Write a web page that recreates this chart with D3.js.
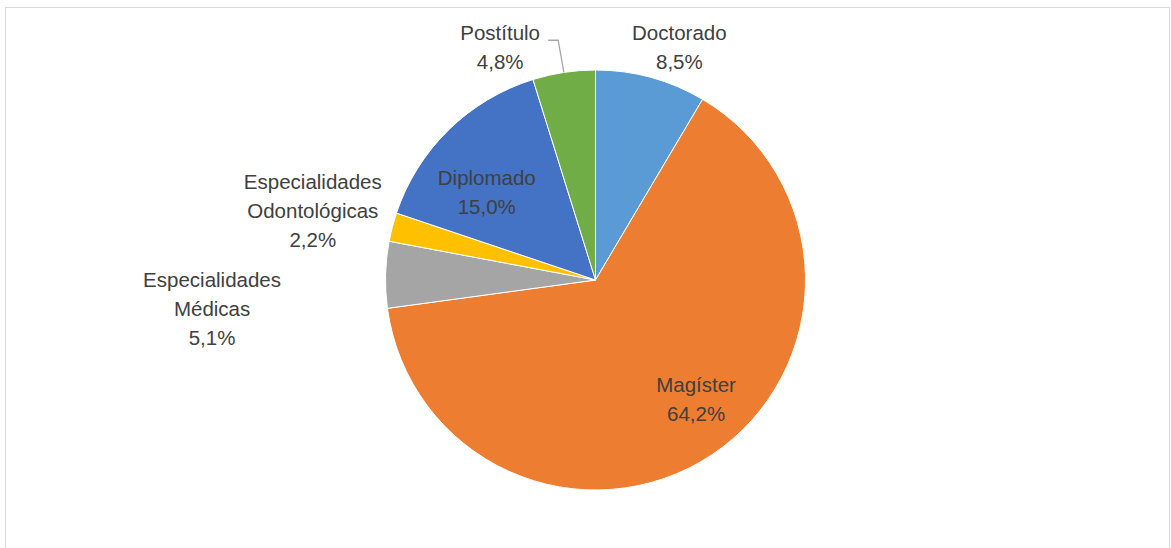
<!DOCTYPE html>
<html><head><meta charset="utf-8">
<script src="https://cdn.jsdelivr.net/npm/d3@7"></script>
<style>html,body{margin:0;padding:0;background:#fff;overflow:hidden}</style>
</head><body>
<svg id="chart" width="1171" height="548"></svg>
<script>
// ---- data ----
const categories = ["Doctorado", "Magíster", "Especialidades Médicas", "Especialidades Odontológicas", "Diplomado", "Postítulo"];
const values = [8.5, 64.2, 5.1, 2.2, 15.0, 4.8];
const valueLabels = ["8,5%", "64,2%", "5,1%", "2,2%", "15,0%", "4,8%"];
const labelLines = [["Doctorado"], ["Magíster"], ["Especialidades", "Médicas"], ["Especialidades", "Odontológicas"], ["Diplomado"], ["Postítulo"]];

// ---- layout / style ----
const colors = ["#5B9BD5", "#ED7D31", "#A5A5A5", "#FFC000", "#4472C4", "#70AD47"];
const inside = [false, true, false, false, true, false];
const nudges = [[20, 0], [17, -7], [-142, 35], [-49, -8], [-3, 20], [-59, 6]];
const W = 1171, H = 548, cx = 595.5, cy = 280, R = 210, lineH = 29;

const svg = d3.select("#chart");
svg.append("rect").attr("x", 5.5).attr("y", 7.5).attr("width", 1164).attr("height", 700)
  .attr("fill", "#fff").attr("stroke", "#d9d9d9").attr("stroke-width", 1);

const g = svg.append("g").attr("transform", `translate(${cx},${cy})`);
const pie = d3.pie().sort(null).value(d => d.v);
const data = pie(categories.map((c, i) => ({c, v: values[i], i})));
const arc = d3.arc().innerRadius(0).outerRadius(R);
const arcIn = d3.arc().innerRadius(R * 0.72).outerRadius(R * 0.72);
const arcOut = d3.arc().innerRadius(R * 1.15).outerRadius(R * 1.15);
const arcEdge = d3.arc().innerRadius(R).outerRadius(R);

g.selectAll("path.slice").data(data).join("path").attr("class", "slice")
  .attr("d", arc).attr("fill", d => colors[d.data.i])
  .attr("stroke", "#fff").attr("stroke-width", 1);

const labels = g.selectAll("g.lbl").data(data).join("g").attr("class", "lbl")
  .attr("transform", d => {
    const c = inside[d.data.i] ? arcIn.centroid(d) : arcOut.centroid(d);
    const n = nudges[d.data.i];
    return `translate(${c[0] + n[0]},${c[1] + n[1]})`;
  });
labels.each(function(d) {
  const lines = labelLines[d.data.i].concat([valueLabels[d.data.i]]);
  const t = d3.select(this).append("text")
    .attr("text-anchor", "middle")
    .attr("font-family", "'Liberation Sans', Arial, sans-serif")
    .attr("font-size", 20.5).attr("fill", "#404040");
  const y0 = -(lines.length - 1) * lineH / 2;
  lines.forEach((s, k) => t.append("tspan").attr("x", 0).attr("y", y0 + k * lineH).attr("dy", "0.35em").text(s));
});

// leader line for Postítulo
const pd = data[5];
const pc = arcOut.centroid(pd), pn = nudges[5];
const lx = pc[0] + pn[0], ly = pc[1] + pn[1];
const e = arcEdge.centroid(pd);
g.append("polyline")
  .attr("points", `${lx + 48},${ly - 7} ${lx + 58},${ly - 7} ${e[0]},${e[1]}`)
  .attr("fill", "none").attr("stroke", "#a6a6a6").attr("stroke-width", 1.3);
</script>
</body></html>
